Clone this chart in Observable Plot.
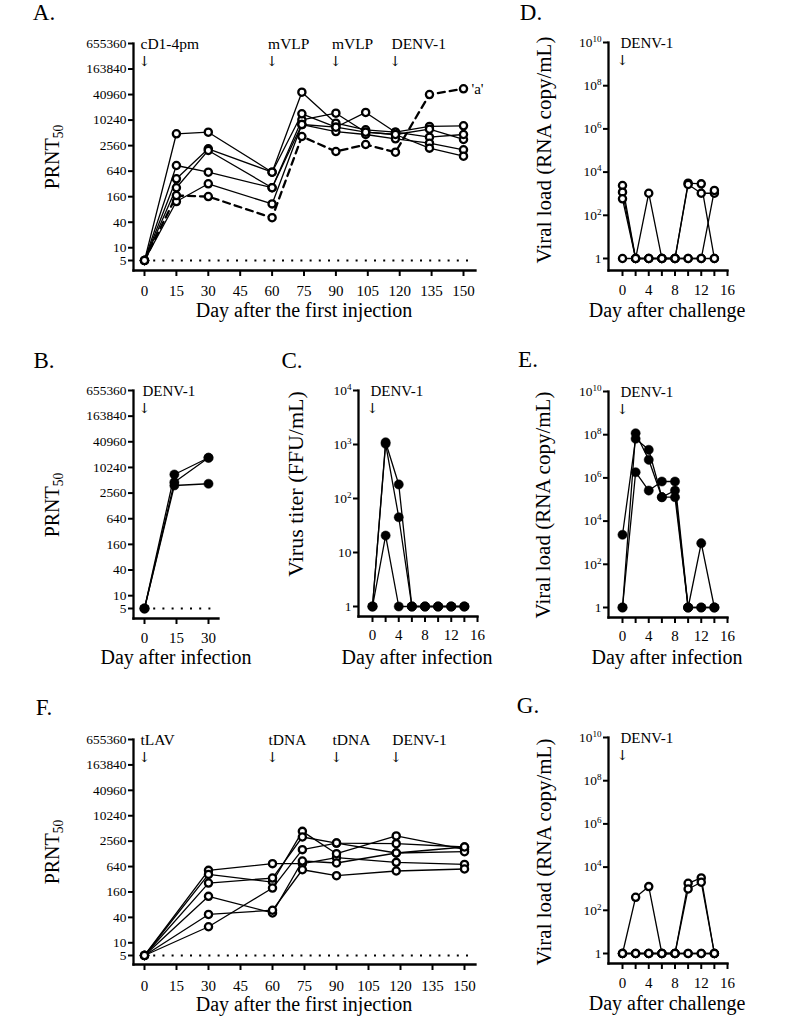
<!DOCTYPE html>
<html>
<head>
<meta charset="utf-8">
<script src="https://cdn.jsdelivr.net/npm/d3@7"></script>
<script src="https://cdn.jsdelivr.net/npm/@observablehq/plot@0.6"></script>
<style>
html, body { margin: 0; padding: 0; background: #fff; overflow: hidden; }
#chart { position: relative; width: 795px; height: 1021px; font-family: "Liberation Serif", "Times New Roman", Times, serif; color: #000; }
#chart svg { position: absolute; }
</style>
</head>
<body>
<div id="chart"></div>
<script>
// ---------------- DATA ----------------
// Panel A: PRNT50 after cD1-4pm / mVLP immunisation and DENV-1 challenge
const daysA = [0, 15, 30, 60, 74, 90, 104, 118, 134, 150];
const prntA1 = [5, 4870, 5300, 605, 46500, 8670, 6050, 5300, 7240, 7500];
const prntA2 = [5, 870, 605, 260, 10400, 14900, 5300, 4680, 6250, 3570];
const prntA3 = [5, 422, 2150, 605, 14400, 6950, 15500, 5300, 4050, 4680];
const prntA4 = [5, 260, 1970, 260, 8050, 5500, 4680, 3700, 2920, 2040];
const prntA5 = [5, 123, 322, 108, 8050, 6950, 5300, 4680, 2230, 1440];
const prntA6dashed = [5, 170, 161, 51, 4200, 1860, 2720, 1790, 41000, 56000];
const eventsA = ["cD1-4pm", "mVLP", "mVLP", "DENV-1"];
const eventDaysA = [0, 60, 90, 118];

// Panel B: PRNT50 after infection
const daysB = [0, 14, 30];
const prntB1 = [5, 7000, 17300];
const prntB2 = [5, 4620, 17300];
const prntB3 = [5, 3860, 4240];

// Panel C: virus titer after infection
const daysC = [0, 2, 4, 6, 8, 10, 12, 14];
const titerC1 = [1, 1100, 182, 1, 1, 1, 1, 1];
const titerC2 = [1, 1030, 45, 1, 1, 1, 1, 1];
const titerC3 = [1, 20.6, 1, 1, 1, 1, 1, 1];

// Panel D: viral load after challenge (cD1-4pm / mVLP group)
const daysD = [0, 2, 4, 6, 8, 10, 12, 14];
const loadD1 = [2400, 1, 1, 1, 1, 3070, 2860, 1];
const loadD2 = [1175, 1, 1050, 1, 1, 1, 1, 1];
const loadD3 = [580, 1, 1, 1, 1, 2680, 1050, 1050];
const loadD4 = [1, 1, 1, 1, 1, 1, 1, 1410];

// Panel E: viral load after infection
const daysE = [0, 2, 4, 6, 8, 10, 12, 14];
const loadE1 = [2330, 6.5e7, 2.0e7, 1.28e5, 2.6e5, 1, 950, 1];
const loadE2 = [1, 1.17e8, 6.9e6, 1.28e5, 1.28e5, 1, 1, 1];
const loadE3 = [1, 1.83e6, 2.6e5, 6.8e5, 6.8e5, 1, 1, 1];

// Panel F: PRNT50 after tLAV / tDNA immunisation and DENV-1 challenge
const daysF = [0, 30, 60, 74, 90, 118, 150];
const prntF1 = [5, 520, 750, 750, 1040, 805, 720];
const prntF2 = [5, 417, 275, 4370, 1290, 3400, 1640];
const prntF3 = [5, 260, 342, 3210, 2310, 2230, 1860];
const prntF4 = [5, 126, 51, 867, 777, 1340, 1440];
const prntF5 = [5, 47, 59, 538, 389, 502, 560];
const prntF6 = [5, 24, 198, 1610, 2310, 1340, 1860];
const eventsF = ["tLAV", "tDNA", "tDNA", "DENV-1"];
const eventDaysF = [0, 60, 90, 118];

// Panel G: viral load after challenge (tLAV / tDNA group)
const daysG = [0, 2, 4, 6, 8, 10, 12, 14];
const loadG1 = [1, 400, 1250, 1, 1, 1, 1, 1];
const loadG2 = [1, 1, 1, 1, 1, 1780, 3160, 1];
const loadG3 = [1, 1, 1, 1, 1, 970, 1990, 1];
const loadG4 = [1, 1, 1, 1, 1, 1, 1, 1];

// Ticks and labels
const prntTicks = [5, 10, 40, 160, 640, 2560, 10240, 40960, 163840, 655360];
const loadTicks = [1, 1e2, 1e4, 1e6, 1e8, 1e10];
const titerTicks = [1, 10, 1e2, 1e3, 1e4];
const dayTicksLong = [0, 15, 30, 45, 60, 75, 90, 105, 120, 135, 150];
const dayTicksShortB = [0, 15, 30];
const dayTicksShort = [0, 2, 4, 6, 8, 10, 12, 14, 16];
const challengeEvent = ["DENV-1"];
const challengeDay = [0];
const lodPRNT = 5;

// ---------------- DRAWING ----------------
const FONT = '"Liberation Serif", "Times New Roman", Times, serif';
const ARROW_FONT = '"DejaVu Serif", "DejaVu Sans", serif';
const chart = document.getElementById("chart");

const powFormat = d => d === 1 ? "1" : (d === 10 ? "10" : "10^" + Math.round(Math.log10(d)));
const plainFormat = d => String(d);
const every4 = d => d % 4 === 0 ? String(d) : "";

function panel(o) {
  const [bx0, by0, bx1, by1] = o.box;
  const [fl, ft, fr, fb] = o.frame;
  const sx = v => v - bx0, sy = v => v - by0;
  const rows = o.series.flatMap((vals, i) =>
    vals.map((v, j) => ({day: o.days[j], value: v, id: i, dashed: o.dashedIndex === i})));
  const solid = rows.filter(d => !d.dashed);
  const dashed = rows.filter(d => d.dashed);
  const events = o.events.map((label, i) => ({label, day: o.eventDays[i], top: o.yDomain[1]}));

  const marks = [];
  if (o.lod !== undefined) {
    marks.push(Plot.ruleY([o.lod], {x1: o.lodFrom, x2: o.lodTo, stroke: "black", strokeWidth: 2, strokeDasharray: "2,7.2"}));
  }
  marks.push(
    Plot.line(solid, {x: "day", y: "value", z: "id", stroke: "black", strokeWidth: 1.3}),
    Plot.line(dashed, {x: "day", y: "value", z: "id", stroke: "black", strokeWidth: 2.3, strokeDasharray: "7,5"}),
    Plot.dot(rows, {x: "day", y: "value", r: o.filled ? 4.6 : 3.6,
      fill: o.filled ? "black" : "white", stroke: "black", strokeWidth: o.filled ? 0.5 : 2.3}),
    // y ticks (marks only) + explicit labels (log-scale axes would otherwise thin the labels)
    Plot.axisY({ticks: o.yTicks, tickFormat: () => "", tickSize: 5, strokeWidth: 2, label: null}),
    Plot.text(o.yTicks, {y: d => d, text: o.yFormat, frameAnchor: "left", textAnchor: "end",
      lineAnchor: "middle", dx: -7, fontSize: 13.4, ariaLabel: "ytick"}),
    Plot.axisX({ticks: o.xTicks, tickFormat: o.xFormat, tickSize: 6, tickPadding: o.xPad,
      fontSize: 15, strokeWidth: 2, label: null}),
    Plot.frame({anchor: "left", strokeWidth: 2.3}),
    Plot.frame({anchor: "bottom", strokeWidth: 2.3}),
    Plot.text(events, {x: "day", y: "top", text: "label", textAnchor: "start", lineAnchor: "middle",
      dx: o.eventDx, dy: 1, fontSize: o.eventSize}),
    Plot.text(events, {x: "day", y: "top", text: () => "\u2193", textAnchor: "middle", lineAnchor: "middle",
      dy: 18, fontSize: 14, fontFamily: ARROW_FONT, fill: "black"})
  );
  if (o.tag) {
    marks.push(Plot.text([o.tag], {x: "day", y: "value", text: "label", textAnchor: "start", dx: 8, fontSize: 15}));
  }

  const svg = Plot.plot({
    width: bx1 - bx0,
    height: by1 - by0,
    marginLeft: fl - bx0,
    marginTop: ft - by0,
    marginRight: bx1 - fr,
    marginBottom: by1 - fb,
    x: {type: "linear", domain: o.xDomain, range: [sx(o.xRange[0]), sx(o.xRange[1])]},
    y: {type: "log", domain: o.yDomain, range: [sy(o.yRange[0]), sy(o.yRange[1])]},
    style: {fontFamily: FONT, fontSize: "16px", color: "black", background: "transparent", overflow: "visible"},
    marks
  });
  svg.style.left = bx0 + "px";
  svg.style.top = by0 + "px";
  const s = d3.select(svg);

  // superscript exponents in tick labels
  s.selectAll("text").each(function () {
    const m = /^10\^(\d+)$/.exec(this.textContent);
    if (m) {
      const t = d3.select(this);
      t.text("10");
      t.append("tspan").attr("dy", "-0.55em").attr("font-size", "0.68em").text(m[1]);
    }
  });
  // the original's y tick labels are drawn wide: widen glyphs around their right anchor
  s.selectAll('g[aria-label="ytick"] text').each(function () {
    const tr = this.getAttribute("transform") || "";
    this.setAttribute("transform", tr + " scale(1.24,1)");
  });

  // panel letter
  s.append("text").attr("x", sx(o.letterPos[0])).attr("y", sy(o.letterPos[1]))
    .attr("font-size", 23).attr("fill", "black").text(o.letter);

  // y-axis title (rotated)
  const yt = s.append("text")
    .attr("transform", `translate(${sx(o.yTitlePos[0])},${sy(o.yTitlePos[1])}) rotate(-90)`)
    .attr("text-anchor", "middle").attr("font-size", o.yTitleSize).attr("fill", "black");
  if (o.yTitle === "PRNT50") {
    yt.append("tspan").text("PRNT");
    yt.append("tspan").attr("dy", "0.32em").attr("font-size", "0.68em").text("50");
  } else {
    yt.text(o.yTitle);
  }

  // x-axis title
  s.append("text").attr("x", sx(o.xTitlePos[0])).attr("y", sy(o.xTitlePos[1]))
    .attr("text-anchor", "middle").attr("font-size", 20).attr("fill", "black").text(o.xTitle);

  chart.appendChild(svg);
}

// A
panel({
  box: [0, 0, 500, 330], frame: [133, 43, 475, 270],
  days: daysA, series: [prntA1, prntA2, prntA3, prntA4, prntA5, prntA6dashed], dashedIndex: 5,
  xDomain: [0, 150], xRange: [144, 463], yDomain: [5, 655360], yRange: [260, 43],
  yTicks: prntTicks, yFormat: plainFormat, xTicks: dayTicksLong, xFormat: plainFormat, xPad: 9,
  lod: lodPRNT, lodFrom: 0, lodTo: 154.5,
  events: eventsA, eventDays: eventDaysA, eventDx: -4, eventSize: 15.5,
  tag: {day: 150, value: 56000, label: "'a'"},
  letter: "A.", letterPos: [44, 20],
  yTitle: "PRNT50", yTitlePos: [59, 157], yTitleSize: 20,
  xTitle: "Day after the first injection", xTitlePos: [304, 317]
});

// D
panel({
  box: [500, 0, 795, 330], frame: [608, 42, 727, 270],
  days: daysD, series: [loadD1, loadD2, loadD3, loadD4],
  xDomain: [0, 16], xRange: [622, 727], yDomain: [1, 1e10], yRange: [258, 42],
  yTicks: loadTicks, yFormat: powFormat, xTicks: dayTicksShort, xFormat: every4, xPad: 8,
  events: challengeEvent, eventDays: challengeDay, eventDx: -2, eventSize: 15,
  letter: "D.", letterPos: [531, 20],
  yTitle: "Viral load (RNA copy/mL)", yTitlePos: [551, 150], yTitleSize: 21,
  xTitle: "Day after challenge", xTitlePos: [667, 317]
});

// B
panel({
  box: [0, 330, 262, 680], frame: [133, 390, 218, 618],
  days: daysB, series: [prntB1, prntB2, prntB3], filled: true,
  xDomain: [0, 30], xRange: [144, 208], yDomain: [5, 655360], yRange: [608, 390],
  yTicks: prntTicks, yFormat: plainFormat, xTicks: dayTicksShortB, xFormat: plainFormat, xPad: 8,
  lod: lodPRNT, lodFrom: 0, lodTo: 34.3,
  events: challengeEvent, eventDays: challengeDay, eventDx: -2, eventSize: 15,
  letter: "B.", letterPos: [44, 368],
  yTitle: "PRNT50", yTitlePos: [59, 505], yTitleSize: 20,
  xTitle: "Day after infection", xTitlePos: [176, 664]
});

// C
panel({
  box: [262, 330, 500, 680], frame: [358, 390, 477, 616],
  days: daysC, series: [titerC1, titerC2, titerC3], filled: true,
  xDomain: [0, 16], xRange: [372, 477], yDomain: [1, 1e4], yRange: [606, 390],
  yTicks: titerTicks, yFormat: powFormat, xTicks: dayTicksShort, xFormat: every4, xPad: 7,
  events: challengeEvent, eventDays: challengeDay, eventDx: -2, eventSize: 15,
  letter: "C.", letterPos: [292, 368],
  yTitle: "Virus titer (FFU/mL)", yTitlePos: [303, 484], yTitleSize: 22,
  xTitle: "Day after infection", xTitlePos: [417, 664]
});

// E
panel({
  box: [500, 330, 795, 680], frame: [608, 391, 727, 617],
  days: daysE, series: [loadE1, loadE2, loadE3], filled: true,
  xDomain: [0, 16], xRange: [622, 727], yDomain: [1, 1e10], yRange: [607, 391],
  yTicks: loadTicks, yFormat: powFormat, xTicks: dayTicksShort, xFormat: every4, xPad: 7,
  events: challengeEvent, eventDays: challengeDay, eventDx: -2, eventSize: 15,
  letter: "E.", letterPos: [528, 367],
  yTitle: "Viral load (RNA copy/mL)", yTitlePos: [550, 505], yTitleSize: 21,
  xTitle: "Day after infection", xTitlePos: [667, 664]
});

// F
panel({
  box: [0, 680, 500, 1021], frame: [133, 739, 475, 964],
  days: daysF, series: [prntF1, prntF2, prntF3, prntF4, prntF5, prntF6],
  xDomain: [0, 150], xRange: [144, 464], yDomain: [5, 655360], yRange: [955, 739],
  yTicks: prntTicks, yFormat: plainFormat, xTicks: dayTicksLong, xFormat: plainFormat, xPad: 10,
  lod: lodPRNT, lodFrom: 0, lodTo: 154,
  events: eventsF, eventDays: eventDaysF, eventDx: -4, eventSize: 15.5,
  letter: "F.", letterPos: [44, 715],
  yTitle: "PRNT50", yTitlePos: [59, 852], yTitleSize: 20,
  xTitle: "Day after the first injection", xTitlePos: [304, 1011]
});

// G
panel({
  box: [500, 680, 795, 1021], frame: [608, 737, 727, 963],
  days: daysG, series: [loadG1, loadG2, loadG3, loadG4],
  xDomain: [0, 16], xRange: [622, 727], yDomain: [1, 1e10], yRange: [953, 737],
  yTicks: loadTicks, yFormat: powFormat, xTicks: dayTicksShort, xFormat: every4, xPad: 8,
  events: challengeEvent, eventDays: challengeDay, eventDx: -2, eventSize: 15,
  letter: "G.", letterPos: [528, 713],
  yTitle: "Viral load (RNA copy/mL)", yTitlePos: [551, 852], yTitleSize: 21,
  xTitle: "Day after challenge", xTitlePos: [667, 1010]
});
</script>
</body>
</html>
